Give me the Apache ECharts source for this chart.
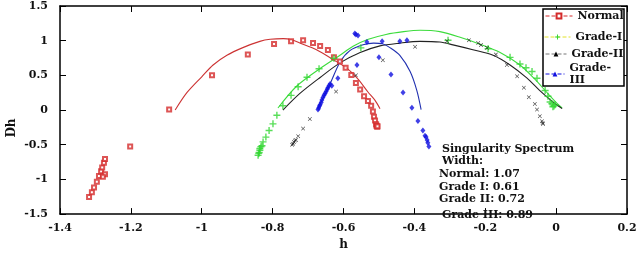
<!DOCTYPE html>
<html>
<head>
<meta charset="utf-8">
<script src="https://cdn.jsdelivr.net/npm/echarts@6/dist/echarts.min.js"></script>
<style>html,body{margin:0;padding:0;background:#fff}#c{width:640px;height:256px}</style>
</head>
<body>
<div id="c"></div>
<script>
// ---- data ----
const seriesNames = ['Normal', 'Grade-I', 'Grade-II', 'Grade-III'];
const xTickLabels = ['-1.4', '-1.2', '-1', '-0.8', '-0.6', '-0.4', '-0.2', '0', '0.2'];
const yTickLabels = ['-1.5', '-1', '-0.5', '0', '0.5', '1', '1.5'];

const normalPts = [[-1.318,-1.253],[-1.310,-1.185],[-1.304,-1.116],[-1.296,-1.034],[-1.290,-0.952],[-1.284,-0.884],[-1.281,-0.829],[-1.276,-0.760],[-1.273,-0.705],[-1.273,-0.925],[-1.279,-0.960],[-1.202,-0.527],[-1.092,0.007],[-0.971,0.500],[-0.870,0.801],[-0.796,0.952],[-0.748,0.993],[-0.714,1.007],[-0.686,0.966],[-0.666,0.925],[-0.644,0.865],[-0.627,0.760],[-0.610,0.700],[-0.594,0.610],[-0.578,0.507],[-0.565,0.390],[-0.553,0.295],[-0.542,0.200],[-0.531,0.130],[-0.522,0.062],[-0.517,-0.021],[-0.514,-0.095],[-0.511,-0.150],[-0.508,-0.205],[-0.507,-0.226],[-0.505,-0.240],[-0.504,-0.232]];
const normalFit = [[-1.075,0.0],[-1.042,0.25],[-1.0,0.48],[-0.968,0.65],[-0.929,0.79],[-0.884,0.90],[-0.836,0.99],[-0.807,1.02],[-0.77,1.03],[-0.745,1.01],[-0.72,0.96],[-0.69,0.90],[-0.666,0.84],[-0.63,0.73],[-0.59,0.60],[-0.559,0.445],[-0.531,0.26],[-0.511,0.14],[-0.497,0.02]];

const grade1Pts = [[-0.841,-0.651],[-0.839,-0.625],[-0.838,-0.610],[-0.836,-0.580],[-0.836,-0.555],[-0.833,-0.530],[-0.830,-0.514],[-0.827,-0.459],[-0.819,-0.390],[-0.810,-0.295],[-0.799,-0.199],[-0.788,-0.075],[-0.771,0.062],[-0.748,0.212],[-0.728,0.336],[-0.703,0.473],[-0.669,0.596],[-0.627,0.747],[-0.551,0.897],[-0.305,1.007],[-0.192,0.884],[-0.130,0.760],[-0.102,0.664],[-0.085,0.610],[-0.068,0.555],[-0.054,0.459],[-0.031,0.281],[-0.023,0.199],[-0.017,0.116],[-0.012,0.090],[-0.009,0.048],[-0.006,0.060],[-0.003,0.075]];
const grade1Fit = [[-0.785,0.03],[-0.731,0.35],[-0.666,0.60],[-0.61,0.79],[-0.573,0.92],[-0.53,1.02],[-0.48,1.09],[-0.43,1.13],[-0.384,1.15],[-0.328,1.13],[-0.271,1.05],[-0.215,0.95],[-0.158,0.83],[-0.102,0.65],[-0.06,0.445],[-0.026,0.253],[0.002,0.10],[0.017,0.03]];

const grade2Pts = [[-0.745,-0.500],[-0.742,-0.486],[-0.740,-0.460],[-0.737,-0.440],[-0.734,-0.430],[-0.728,-0.377],[-0.714,-0.267],[-0.695,-0.130],[-0.621,0.267],[-0.565,0.500],[-0.489,0.719],[-0.398,0.911],[-0.308,0.993],[-0.246,1.007],[-0.220,0.966],[-0.212,0.938],[-0.195,0.897],[-0.170,0.801],[-0.139,0.651],[-0.110,0.486],[-0.091,0.322],[-0.077,0.185],[-0.060,0.089],[-0.054,0.007],[-0.046,-0.089],[-0.040,-0.160],[-0.038,-0.185],[-0.037,-0.200]];
const grade2Fit = [[-0.771,0.0],[-0.723,0.24],[-0.666,0.47],[-0.61,0.68],[-0.553,0.83],[-0.497,0.925],[-0.441,0.965],[-0.384,0.99],[-0.328,0.98],[-0.291,0.94],[-0.235,0.87],[-0.178,0.79],[-0.130,0.65],[-0.082,0.46],[-0.046,0.28],[-0.009,0.116],[0.017,0.02]];

const grade3Pts = [[-0.672,0.007],[-0.670,0.030],[-0.668,0.060],[-0.666,0.075],[-0.663,0.110],[-0.661,0.144],[-0.658,0.180],[-0.655,0.212],[-0.652,0.240],[-0.649,0.267],[-0.646,0.300],[-0.644,0.322],[-0.641,0.350],[-0.638,0.377],[-0.633,0.349],[-0.616,0.459],[-0.562,0.651],[-0.500,0.760],[-0.466,0.514],[-0.432,0.253],[-0.407,0.034],[-0.390,-0.158],[-0.376,-0.295],[-0.370,-0.370],[-0.367,-0.390],[-0.364,-0.430],[-0.362,-0.473],[-0.359,-0.527],[-0.568,1.103],[-0.565,1.090],[-0.559,1.075],[-0.534,0.980],[-0.491,0.993],[-0.441,0.993],[-0.421,1.007]];
const grade3Fit = [[-0.672,0.03],[-0.638,0.377],[-0.610,0.69],[-0.582,0.856],[-0.545,0.94],[-0.515,0.965],[-0.49,0.955],[-0.469,0.90],[-0.441,0.788],[-0.412,0.555],[-0.393,0.281],[-0.381,0.007]];

const noteLines = ['Singularity Spectrum', 'Width:', 'Normal: 1.07', 'Grade I: 0.61', 'Grade II: 0.72', 'Grade III: 0.89'];

// ---- styling ----
const FONT = 'DejaVu Serif';
const RED = '#d42a2a', GREEN = '#2fd62f', BLACK = '#222222', BLUE = '#1010e0';
const PLUS = 'path://M4,0H6V4H10V6H6V10H4V6H0V4H4Z';
const CROSS = 'path://M0,1L1,0L5,4L9,0L10,1L6,5L10,9L9,10L5,6L1,10L0,9L4,5Z';

const xMin = -1.4, xMax = 0.2, xInt = 0.2;
const yMin = -1.5, yMax = 1.5, yInt = 0.5;
const xFmt = v => xTickLabels[Math.round((v - xMin) / xInt)] || '';
const yFmt = v => yTickLabels[Math.round((v - yMin) / yInt)] || '';

const labelStyle = {fontFamily: FONT, fontWeight: 'bold', fontSize: 11, color: '#111'};
const axisLine = {show: true, onZero: false, lineStyle: {color: '#000', width: 1.5}};
const axisTick = {show: true, inside: true, length: 6, lineStyle: {color: '#000', width: 1}};

function lineSeries(name, data, color, symbol) {
  return {type: 'line', name, data, showSymbol: false, symbol, symbolSize: 5,
    smooth: 0.3, lineStyle: {color, width: 1.1}, itemStyle: {color}, z: 2, silent: true};
}
function scatterSeries(name, data, color, symbol, size, extra) {
  return Object.assign({type: 'scatter', name, data, symbol, symbolSize: size,
    itemStyle: {color}, z: 3, silent: true}, extra || {});
}

const legendDefs = [
  {name: 'Normal', left: 545, top: 10, w: 27, line: RED, item: RED},
  {name: 'Grade-I', left: 544, top: 31, w: 26, line: '#e2e22a', item: GREEN},
  {name: 'Grade-II', left: 545, top: 48, w: 21, line: '#777777', item: '#000'},
  {name: 'Grade-III', left: 545, top: 62, w: 19, line: BLUE, item: BLUE}
];

const option = {
  animation: false,
  backgroundColor: '#fff',
  grid: {left: 60, right: 13, top: 6, bottom: 31, containLabel: false},
  xAxis: [
    {type: 'value', min: xMin, max: xMax, interval: xInt, position: 'bottom',
     name: 'h', nameLocation: 'middle', nameGap: 22,
     nameTextStyle: {fontFamily: FONT, fontWeight: 'bold', fontSize: 12, color: '#111'},
     axisLine, axisTick,
     axisLabel: Object.assign({formatter: xFmt, margin: 9}, labelStyle), splitLine: {show: false}},
    {type: 'value', min: xMin, max: xMax, interval: xInt, position: 'top',
     axisLine, axisTick, axisLabel: {show: false}, splitLine: {show: false}}
  ],
  yAxis: [
    {type: 'value', min: yMin, max: yMax, interval: yInt, position: 'left',
     axisLine, axisTick,
     axisLabel: Object.assign({formatter: yFmt, margin: 12}, labelStyle), splitLine: {show: false}},
    {type: 'value', min: yMin, max: yMax, interval: yInt, position: 'right',
     axisLine, axisTick, axisLabel: {show: false}, splitLine: {show: false}}
  ],
  legend: legendDefs.map(d => ({
    data: [d.name], left: d.left, top: d.top, orient: 'vertical', padding: 0,
    itemWidth: d.w, itemHeight: 6, itemGap: 0, selectedMode: false,
    formatter: n => n === 'Grade-III' ? 'Grade-\nIII' : n,
    textStyle: {fontFamily: FONT, fontWeight: 'bold', fontSize: 11, color: '#111', lineHeight: 12},
    lineStyle: {type: 'dashed', color: d.line, width: 1},
    itemStyle: {color: d.item, borderWidth: 1}, z: 6
  })),
  graphic: [
    {type: 'rect', shape: {x: 543, y: 9, width: 81, height: 77}, z: 5,
     style: {fill: '#fff', stroke: '#000', lineWidth: 1.5}},
    {type: 'text', x: 12, y: 128, rotation: Math.PI / 2, z: 5,
     style: {text: 'Dh', fontFamily: FONT, fontWeight: 'bold', fontSize: 12, fill: '#111', align: 'center', verticalAlign: 'middle'}}
  ].concat(noteLines.map((t, i) => ({
    type: 'text', z: 5,
    x: [442, 442, 439, 439, 439, 442][i], y: [149, 161, 174, 187, 199, 215][i],
    style: {text: t, fontFamily: FONT, fontWeight: 'bold', fontSize: 11, fill: '#111', align: 'left', verticalAlign: 'middle'}
  }))),
  series: [
    lineSeries(seriesNames[0], normalFit, '#cc3333', 'emptyRect'),
    lineSeries(seriesNames[1], grade1Fit, '#3ddc3d', PLUS),
    lineSeries(seriesNames[2], grade2Fit, BLACK, 'triangle'),
    lineSeries(seriesNames[3], grade3Fit, '#2030b0', 'triangle'),
    scatterSeries('Normal points', normalPts, RED, 'emptyRect', 4, {itemStyle: {color: RED, borderWidth: 1}}),
    scatterSeries('Grade-I points', grade1Pts, GREEN, PLUS, 7),
    scatterSeries('Grade-II points', grade2Pts, '#000', CROSS, 4),
    scatterSeries('Grade-III points', grade3Pts, BLUE, 'diamond', [5, 6])
  ]
};

const chart = echarts.init(document.getElementById('c'), null, {renderer: 'canvas'});
chart.setOption(option);
</script>
</body>
</html>
